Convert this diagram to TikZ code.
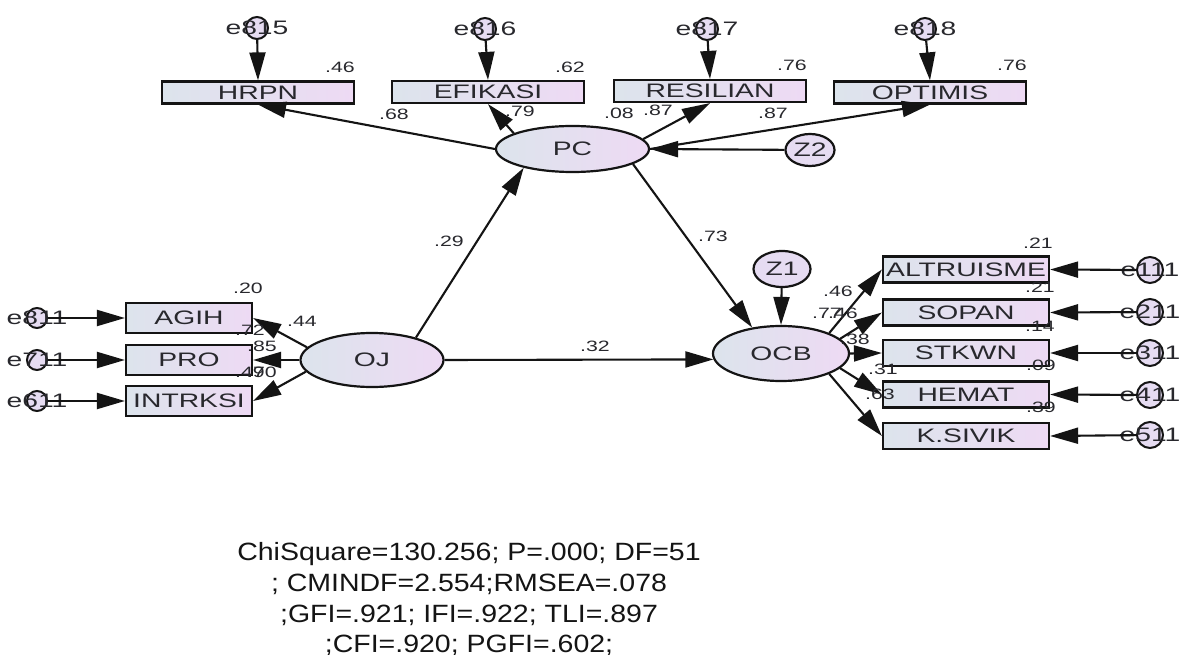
\documentclass[tikz,border=0pt]{standalone}
\usepackage{fontspec}
\setmainfont{Liberation Sans}
\newfontfamily\namefont[FakeStretch=1.45]{Liberation Sans}
\newfontfamily\numfont[FakeStretch=1.42]{Liberation Sans}
\newfontfamily\statfont[FakeStretch=1.14]{Liberation Sans}
\usetikzlibrary{shapes.geometric,arrows.meta}
\definecolor{fillL}{RGB}{220,228,236}
\definecolor{fillR}{RGB}{238,218,244}
\definecolor{errfill}{RGB}{230,220,242}
\definecolor{ink}{RGB}{20,20,20}
\definecolor{txt}{RGB}{40,40,45}
\begin{document}
\begin{tikzpicture}[x=1pt,y=-1pt,
  namef/.style={font=\namefont\fontsize{19.5}{20}\selectfont, text=txt},
  obs/.style={rectangle, draw=ink, line width=2.2pt, left color=fillL, right color=fillR, inner sep=0pt, namef},
  obstop/.style={obs, minimum width=192pt, minimum height=22pt},
  obsleft/.style={obs, minimum width=126pt, minimum height=30pt},
  obsright/.style={obs, minimum width=166pt, minimum height=26pt},
  lat/.style={ellipse, draw=ink, line width=2.2pt, left color=fillL, right color=fillR, inner sep=0pt, namef},
  dist/.style={ellipse, draw=ink, line width=2.2pt, fill=errfill, inner sep=0pt, namef},
  err/.style={circle, draw=ink, line width=2pt, fill=errfill, inner sep=0pt, namef},
  num/.style={inner sep=0pt, font=\numfont\fontsize{15}{15}\selectfont, text=txt},
  arr/.style={draw=ink, line width=2.1pt, -{Triangle[length=28pt,width=16pt]}},
  stat/.style={anchor=base, inner sep=0pt, font=\statfont\fontsize{25}{25}\selectfont, text=ink}]
\fill[white] (0,0) rectangle (1189,655);
\useasboundingbox (0,0) rectangle (1189,655);

% top indicators
\node[obstop] (HRPN) at (258,92.5) {HRPN};
\node[obstop] (EFIKASI) at (488,92) {EFIKASI};
\node[obstop] (RESILIAN) at (710,91) {RESILIAN};
\node[obstop] (OPTIMIS) at (930,92.5) {OPTIMIS};
% left indicators
\node[obsleft] (AGIH) at (189,318) {AGIH};
\node[obsleft] (PRO) at (189,360) {PRO};
\node[obsleft] (INTRKSI) at (189,401) {INTRKSI};
% right indicators
\node[obsright] (ALTRUISME) at (966,269.5) {ALTRUISME};
\node[obsright] (SOPAN) at (966,312.5) {SOPAN};
\node[obsright] (STKWN) at (966,353) {STKWN};
\node[obsright] (HEMAT) at (966,394.5) {HEMAT};
\node[obsright] (KSIVIK) at (966,436) {K.SIVIK};
% latent variables
\node[lat, minimum width=153pt, minimum height=46pt] (PC) at (572.5,149) {PC};
\node[lat, minimum width=143pt, minimum height=54pt] (OJ) at (372,360) {OJ};
\node[lat, minimum width=136pt, minimum height=55pt] (OCB) at (781,353.5) {OCB};
\node[dist, minimum width=57pt, minimum height=36pt] (Z1) at (782,269) {Z1};
\node[dist, minimum width=49pt, minimum height=32pt] (Z2) at (810,150) {Z2};
% error terms
\node[err, minimum size=22pt] (e815) at (257,28) {\makebox[0pt]{e815}};
\node[err, minimum size=22pt] (e816) at (485,29) {\makebox[0pt]{e816}};
\node[err, minimum size=22pt] (e817) at (707,29) {\makebox[0pt]{e817}};
\node[err, minimum size=22pt] (e818) at (925,29) {\makebox[0pt]{e818}};
\node[err, minimum size=20pt] (e811) at (37,318) {\makebox[0pt]{e811}};
\node[err, minimum size=20pt] (e711) at (37,360) {\makebox[0pt]{e711}};
\node[err, minimum size=20pt] (e611) at (37,401) {\makebox[0pt]{e611}};
\node[err, minimum size=26pt] (e111) at (1150,270) {\makebox[0pt]{e111}};
\node[err, minimum size=26pt] (e211) at (1150,312) {\makebox[0pt]{e211}};
\node[err, minimum size=26pt] (e311) at (1150,353) {\makebox[0pt]{e311}};
\node[err, minimum size=26pt] (e411) at (1150,395) {\makebox[0pt]{e411}};
\node[err, minimum size=26pt] (e511) at (1150,435) {\makebox[0pt]{e511}};

% arrows: errors to indicators
\draw[arr] (e815) -- (HRPN.north);
\draw[arr] (e816) -- (EFIKASI.north);
\draw[arr] (e817) -- (RESILIAN.north);
\draw[arr] (e818) -- (OPTIMIS.north);
\draw[arr] (e811) -- (AGIH.west);
\draw[arr] (e711) -- (PRO.west);
\draw[arr] (e611) -- (INTRKSI.west);
\draw[arr] (e111) -- (ALTRUISME.east);
\draw[arr] (e211) -- (SOPAN.east);
\draw[arr] (e311) -- (STKWN.east);
\draw[arr] (e411) -- (HEMAT.east);
\draw[arr] (e511) -- (KSIVIK.east);
% loadings
\draw[arr] (PC.west) -- (HRPN.south);
\draw[arr] (PC.165) -- (EFIKASI.south);
\draw[arr] (PC.8) -- (RESILIAN.south);
\draw[arr] (PC.east) -- (OPTIMIS.south);
\draw[arr] (OJ.169) -- (AGIH.east);
\draw[arr] (OJ.west) -- (PRO.east);
\draw[arr] (OJ.190) -- (INTRKSI.east);
\draw[arr] (OCB.23) -- (ALTRUISME.west);
\draw[arr] (OCB.14) -- (SOPAN.west);
\draw[arr] (OCB.east) -- (STKWN.west);
\draw[arr] (OCB.-14) -- (HEMAT.west);
\draw[arr] (OCB.-23) -- (KSIVIK.west);
% structural paths
\draw[arr] (Z2) -- (PC.east);
\draw[arr] (Z1) -- (OCB.north);
\draw[arr] (OJ.27) -- (PC.201);
\draw[arr] (PC.-14) -- (OCB.138);
\draw[arr] (OJ.east) -- (OCB.185);

% estimates
\node[num] (r46) at (340,67) {.46};
\node[num] (r62) at (570,67) {.62};
\node[num] (r76a) at (792,65) {.76};
\node[num] (r76b) at (1012,65) {.76};
\node[num] (l68) at (394,114) {.68};
\node[num] (l79) at (520,111) {.79};
\node[num] (r08) at (619,113) {.08};
\node[num] (l87a) at (658,110) {.87};
\node[num] (l87b) at (773,113) {.87};
\node[num] (r20) at (248,288) {.20};
\node[num] (l44) at (302,321) {.44};
\node[num] (r72) at (250,330) {.72};
\node[num] (l85) at (262,346) {.85};
\node[num] (r49) at (250,372) {.49};
\node[num] (l70) at (262,372) {.70};
\node[num] (p29) at (449,241) {.29};
\node[num] (p73) at (713,236) {.73};
\node[num] (p32) at (595,346) {.32};
\node[num] (r21a) at (1038,243) {.21};
\node[num] (r21b) at (1040,287) {.21};
\node[num] (r14) at (1040,326) {.14};
\node[num] (r09) at (1041,365) {.09};
\node[num] (r39) at (1041,407) {.39};
\node[num] (l46a) at (838,291) {.46};
\node[num] (l77) at (827,313) {.77};
\node[num] (l46b) at (843,313) {.46};
\node[num] (l38) at (855,339) {.38};
\node[num] (l31) at (883,369) {.31};
\node[num] (l63) at (880,394) {.63};

% fit statistics
\node[stat] (s1) at (469,560) {ChiSquare=130.256; P=.000; DF=51};
\node[stat] (s2) at (469,591) {; CMINDF=2.554;RMSEA=.078};
\node[stat] (s3) at (469,622) {;GFI=.921; IFI=.922; TLI=.897};
\node[stat] (s4) at (469,652) {;CFI=.920; PGFI=.602;};
\end{tikzpicture}
\end{document}
